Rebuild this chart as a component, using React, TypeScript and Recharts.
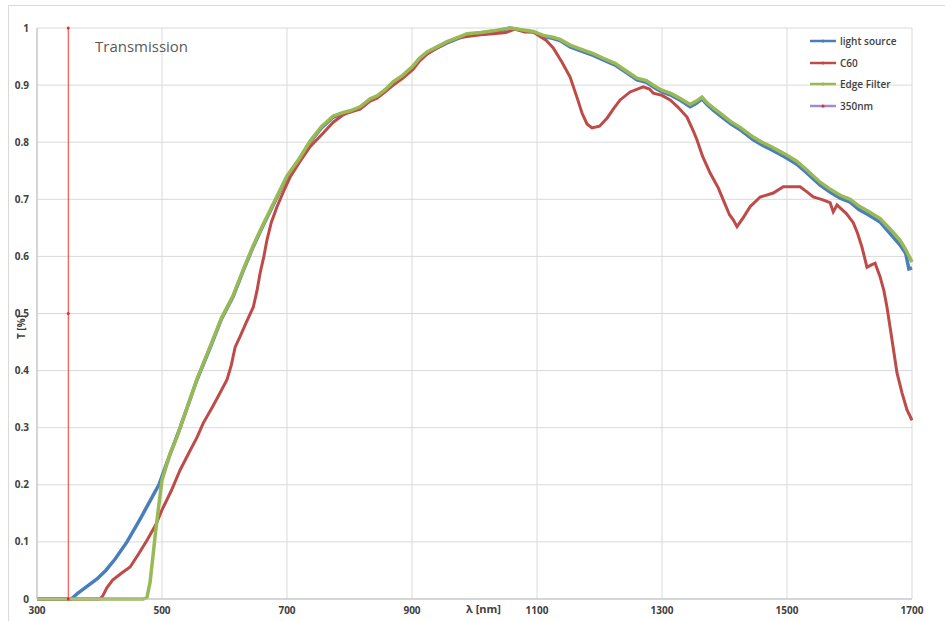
import React from 'react';
import { LineChart, Line, XAxis, YAxis, CartesianGrid } from 'recharts';

// wavelength [nm] / transmission readings for each series
const lightSourceNm = [
  300, 320, 340, 355, 365, 380, 396, 410, 425, 444, 465, 480, 495, 510, 529, 556, 577, 595,
  614, 630, 646, 660, 678, 700, 720, 737, 755, 774, 790, 801, 817, 833, 844, 857, 870, 885, 902, 912,
  924, 940, 956, 970, 988, 1010, 1030, 1045, 1057, 1075, 1094, 1110, 1125, 1137, 1153, 1170, 1190, 1206,
  1225, 1240, 1260, 1275, 1290, 1300, 1315, 1330, 1345, 1355, 1364, 1372, 1382, 1395, 1410, 1425, 1446,
  1460, 1475, 1490, 1500, 1515, 1530, 1553, 1570, 1585, 1601, 1615, 1630, 1649, 1665, 1681, 1690, 1695, 1700,
];
const lightSourceT = [
  0, 0, 0, 0, 0.01, 0.022, 0.035, 0.05, 0.07, 0.1, 0.14, 0.17, 0.2, 0.245, 0.3, 0.384, 0.44, 0.49,
  0.53, 0.575, 0.617, 0.65, 0.69, 0.739, 0.77, 0.8, 0.825, 0.844, 0.85, 0.853, 0.86, 0.874, 0.879, 0.89, 0.904, 0.915, 0.932, 0.945,
  0.956, 0.965, 0.974, 0.98, 0.988, 0.99, 0.993, 0.997, 1.0, 0.996, 0.993, 0.985, 0.982, 0.978, 0.967, 0.96, 0.952, 0.944,
  0.935, 0.924, 0.909, 0.905, 0.894, 0.888, 0.882, 0.873, 0.862, 0.868, 0.876, 0.866, 0.856, 0.845, 0.832, 0.822, 0.804,
  0.795, 0.787, 0.778, 0.772, 0.762, 0.748, 0.725, 0.712, 0.702, 0.695, 0.682, 0.673, 0.66, 0.64, 0.62, 0.605, 0.578, 0.58,
];

const c60Nm = [
  300, 350, 400, 405, 412, 421, 435, 449, 462, 476, 490, 500, 515, 529, 545, 556, 566, 580, 590, 604,
  611, 617, 625, 635, 646, 652, 657, 663, 668, 675, 684, 695, 705, 720, 737, 758, 774, 790, 801, 817,
  833, 844, 857, 870, 885, 902, 912, 924, 940, 956, 970, 988, 1010, 1030, 1050, 1065, 1080, 1094, 1105,
  1115, 1126, 1140, 1153, 1165, 1172, 1180, 1188, 1200, 1212, 1222, 1233, 1249, 1270, 1280, 1286, 1300,
  1313, 1325, 1340, 1350, 1356, 1365, 1377, 1390, 1398, 1408, 1414, 1420, 1430, 1441, 1457, 1478, 1494,
  1510, 1521, 1532, 1542, 1555, 1569, 1574, 1580, 1585, 1595, 1606, 1613, 1620, 1628, 1635, 1641, 1649,
  1655, 1660, 1668, 1676, 1684, 1692, 1700,
];
const c60T = [
  0, 0, 0, 0.005, 0.02, 0.033, 0.045, 0.056, 0.078, 0.103, 0.13, 0.156, 0.19, 0.226, 0.26, 0.283, 0.308, 0.335, 0.355, 0.384,
  0.41, 0.441, 0.46, 0.485, 0.511, 0.54, 0.571, 0.6, 0.629, 0.66, 0.687, 0.715, 0.739, 0.765, 0.792, 0.816, 0.835, 0.848, 0.853, 0.858,
  0.872, 0.877, 0.888, 0.9, 0.912, 0.928, 0.942, 0.954, 0.965, 0.975, 0.982, 0.985, 0.988, 0.99, 0.992, 0.998, 0.993, 0.993, 0.985,
  0.978, 0.965, 0.94, 0.914, 0.875, 0.851, 0.832, 0.825, 0.828, 0.842, 0.858, 0.874, 0.888, 0.897, 0.893, 0.886, 0.882,
  0.874, 0.862, 0.844, 0.82, 0.804, 0.775, 0.746, 0.72, 0.699, 0.673, 0.664, 0.652, 0.668, 0.687, 0.704, 0.711, 0.722,
  0.722, 0.722, 0.713, 0.704, 0.7, 0.694, 0.678, 0.69, 0.685, 0.675, 0.659, 0.64, 0.616, 0.581, 0.585, 0.588, 0.564,
  0.54, 0.511, 0.454, 0.396, 0.361, 0.331, 0.313,
];

const edgeFilterNm = [
  300, 350, 400, 450, 470, 476, 481, 486, 490, 494, 500, 513, 524, 529, 556, 577, 595,
  614, 630, 646, 660, 678, 700, 720, 737, 755, 774, 790, 801, 817, 833, 844, 857, 870, 885, 902, 912,
  924, 940, 956, 970, 988, 1010, 1030, 1045, 1057, 1075, 1094, 1110, 1125, 1137, 1153, 1170, 1190, 1206,
  1225, 1240, 1260, 1275, 1290, 1300, 1315, 1330, 1345, 1355, 1364, 1372, 1382, 1395, 1410, 1425, 1446,
  1460, 1475, 1490, 1500, 1515, 1530, 1553, 1570, 1585, 1601, 1615, 1630, 1649, 1665, 1681, 1690, 1700,
];
const edgeFilterT = [
  0, 0, 0, 0, 0, 0.003, 0.03, 0.08, 0.12, 0.156, 0.208, 0.255, 0.284, 0.3, 0.385, 0.442, 0.492,
  0.532, 0.577, 0.619, 0.652, 0.692, 0.741, 0.772, 0.802, 0.827, 0.846, 0.852, 0.855, 0.862, 0.876, 0.881, 0.892, 0.906, 0.917, 0.934, 0.947,
  0.958, 0.967, 0.976, 0.982, 0.99, 0.992, 0.995, 0.998, 1.0, 0.997, 0.994, 0.987, 0.984, 0.98, 0.97, 0.963, 0.955, 0.947,
  0.938, 0.927, 0.912, 0.908, 0.897, 0.891, 0.885, 0.876, 0.866, 0.872, 0.879, 0.869, 0.86, 0.849, 0.836, 0.826, 0.809,
  0.8, 0.792, 0.783, 0.777, 0.767, 0.753, 0.73, 0.717, 0.707, 0.7, 0.688, 0.679, 0.666, 0.648, 0.628, 0.612, 0.59,
];

const markerNm = [350, 350, 350];
const markerT = [0, 0.5, 1];

const xTicks = [300, 500, 700, 900, 1100, 1300, 1500, 1700];
const yTicks = [0, 0.1, 0.2, 0.3, 0.4, 0.5, 0.6, 0.7, 0.8, 0.9, 1];

const toPoints = (xs: number[], ys: number[]) => xs.map((x, i) => ({ x, y: ys[i] }));

const BLUE = '#4A7EBB';
const RED = '#BE4B48';
const GREEN = '#98B954';

const legendItems = [
  { name: 'light source', line: BLUE, dot: BLUE },
  { name: 'C60', line: RED, dot: RED },
  { name: 'Edge Filter', line: GREEN, dot: GREEN },
  { name: '350nm', line: '#A28CC8', dot: '#FF2020' },
];

const font = '"Open Sans", "Liberation Sans", sans-serif';

const ChartLegend = () => (
  <div style={{ position: 'absolute', left: 810, top: 30, fontFamily: font, fontSize: 10, fontWeight: 600, color: '#404040' }}>
    {legendItems.map((item) => (
      <div key={item.name} style={{ display: 'flex', alignItems: 'center', height: 21.7 }}>
        <svg width={26} height={8} style={{ marginRight: 4 }}>
          <line x1={0} y1={4} x2={26} y2={4} stroke={item.line} strokeWidth={2.5} />
          <circle cx={13} cy={4} r={1.5} fill={item.dot} />
        </svg>
        <span>{item.name}</span>
      </div>
    ))}
  </div>
);

const App: React.FC = () => {
  const tickStyle = { fill: '#404040', fontSize: 10, fontWeight: 700, fontFamily: font };

  return (
    <div style={{ position: 'absolute', left: 0, top: 0, width: 945, height: 621, background: '#fff', overflow: 'hidden' }}>
      <div style={{ position: 'absolute', left: 8, top: 5, width: 960, height: 640, border: '1px solid #d9d9d9' }} />
      <LineChart width={945} height={621} margin={{ top: 28, right: 33, left: 8, bottom: 2 }}>
        <CartesianGrid stroke="#d9d9d9" strokeWidth={1} />
        <XAxis
          type="number"
          dataKey="x"
          domain={[300, 1700]}
          ticks={xTicks}
          allowDuplicatedCategory={false}
          tick={tickStyle}
          tickLine={false}
          tickSize={6}
          axisLine={{ stroke: '#bfbfbf' }}
          height={20}
        />
        <YAxis
          type="number"
          dataKey="y"
          domain={[0, 1]}
          ticks={yTicks}
          tick={tickStyle}
          tickLine={false}
          tickSize={6}
          axisLine={{ stroke: '#bfbfbf' }}
          width={29}
        />
        <Line data={toPoints(lightSourceNm, lightSourceT)} dataKey="y" name="light source" type="linear" stroke={BLUE} strokeWidth={3.5} dot={false} isAnimationActive={false} />
        <Line data={toPoints(c60Nm, c60T)} dataKey="y" name="C60" type="linear" stroke={RED} strokeWidth={3} dot={false} isAnimationActive={false} />
        <Line data={toPoints(edgeFilterNm, edgeFilterT)} dataKey="y" name="Edge Filter" type="linear" stroke={GREEN} strokeWidth={3.5} dot={false} isAnimationActive={false} />
        <Line data={toPoints(markerNm, markerT)} dataKey="y" name="350nm" type="linear" stroke="#FF3030" strokeWidth={1} dot={{ r: 1.5, fill: '#FF2020', stroke: 'none' }} isAnimationActive={false} />
      </LineChart>
      <ChartLegend />
      <div style={{ position: 'absolute', left: 95, top: 36, fontFamily: font, fontSize: 15, color: '#595959' }}>Transmission</div>
      <div style={{ position: 'absolute', left: 466, top: 601, fontFamily: font, fontSize: 11, fontWeight: 700, color: '#404040' }}>λ [nm]</div>
      <div style={{ position: 'absolute', left: 5, top: 320, transform: 'rotate(-90deg)', fontFamily: font, fontSize: 10, fontWeight: 700, color: '#404040', width: 32, textAlign: 'center' }}>T [%]</div>
    </div>
  );
};

export default App;
